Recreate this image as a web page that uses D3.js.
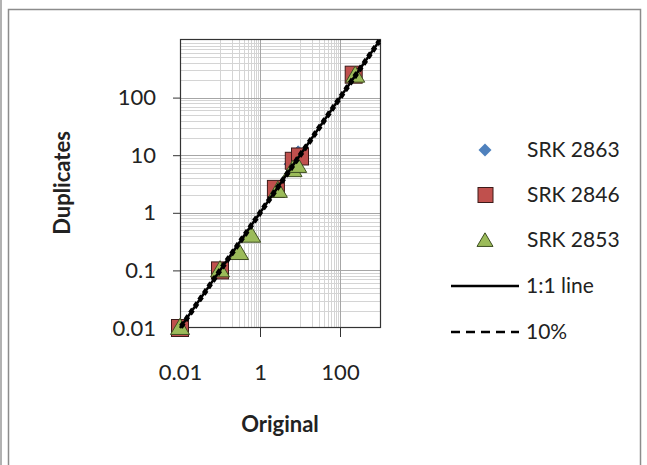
<!DOCTYPE html>
<html><head><meta charset="utf-8">
<script src="https://cdn.jsdelivr.net/npm/d3@7"></script>
<style>html,body{margin:0;padding:0;background:#fff;} svg{display:block;font-family:Lato,"Open Sans",sans-serif;}</style>
</head><body>
<svg id="c" width="647" height="465"></svg>
<script>
// ---- data ----
const seriesNames = ["SRK 2863", "SRK 2846", "SRK 2853"];
const srk2863X = [0.01, 0.1, 2.5, 6, 9];
const srk2863Y = [0.01, 0.1, 2.5, 7, 11];
const srk2846X = [0.01, 0.1, 2.5, 7, 10, 220];
const srk2846Y = [0.01, 0.1, 2.6, 8, 9.5, 250];
const srk2853X = [0.01, 0.1, 0.3, 0.6, 2.8, 6.5, 8.5, 240];
const srk2853Y = [0.01, 0.1, 0.2, 0.4, 2.4, 5.5, 6.5, 240];
const lineNames = ["1:1 line", "10%"];
const xTicks = [0.01, 1, 100];
const yTicks = [0.01, 0.1, 1, 10, 100];
const domain = [0.01, 1000];

const svg = d3.select("#c");
// outer frame
svg.append("line").attr("x1",1).attr("x2",1).attr("y1",0).attr("y2",465).attr("stroke","#999").attr("stroke-width",1.5);
svg.append("rect").attr("x",8.5).attr("y",9.5).attr("width",632).attr("height",470)
  .attr("fill","none").attr("stroke","#8c8c8c").attr("stroke-width",1.5);

const L=180, R=380, T=40, B=328;
const x = d3.scaleLog().domain(domain).range([L,R]);
const y = d3.scaleLog().domain(domain).range([B,T]);

const grid = svg.append("g");
// vertical minor gridlines (multiples of the 100-base unit)
const vMinor = [];
[0.01, 1, 100].forEach(b => { for (let k=10;k<100;k+=10) { const v=b*k; if (v<domain[1]) vMinor.push(v); } });
grid.selectAll(".vm").data(vMinor).join("line")
  .attr("x1",d=>Math.round(x(d))+0.5).attr("x2",d=>Math.round(x(d))+0.5).attr("y1",T).attr("y2",B)
  .attr("stroke","#d4d4d4").attr("stroke-width",1);
// horizontal minor gridlines
const hMinor = [];
[0.01,0.1,1,10,100].forEach(b => { for (let k=2;k<10;k++) hMinor.push(b*k); });
grid.selectAll(".hm").data(hMinor).join("line")
  .attr("y1",d=>Math.round(y(d))+0.5).attr("y2",d=>Math.round(y(d))+0.5).attr("x1",L).attr("x2",R)
  .attr("stroke","#d4d4d4").attr("stroke-width",1);
// major
grid.selectAll(".vM").data([1,100]).join("line")
  .attr("x1",d=>Math.round(x(d))+0.5).attr("x2",d=>Math.round(x(d))+0.5).attr("y1",T).attr("y2",B)
  .attr("stroke","#a6a6a6").attr("stroke-width",1);
grid.selectAll(".hM").data([0.1,1,10,100]).join("line")
  .attr("y1",d=>Math.round(y(d))+0.5).attr("y2",d=>Math.round(y(d))+0.5).attr("x1",L).attr("x2",R)
  .attr("stroke","#a6a6a6").attr("stroke-width",1);

// axes
const xAxis = d3.axisBottom(x).tickValues(xTicks).tickFormat(d3.format("~g")).tickSize(9).tickPadding(27);
const gx = svg.append("g").attr("transform",`translate(0,${B})`).call(xAxis);
const yAxis = d3.axisLeft(y).tickValues(yTicks).tickFormat(d3.format("~g")).tickSize(7).tickPadding(17);
const gy = svg.append("g").attr("transform",`translate(${L},0)`).call(yAxis);
[gx,gy].forEach(g=>{
  g.select(".domain").remove();
  g.selectAll(".tick line").attr("stroke","#333");
  g.selectAll("text").attr("font-size",22).attr("fill","#222").attr("font-family","Lato, sans-serif");
});
gx.selectAll(".tick line").filter(d=>d===0.01).remove();
gy.selectAll(".tick line").filter(d=>d===0.01).remove();

svg.append("rect").attr("x",L+0.5).attr("y",T-0.5).attr("width",R-L).attr("height",B-T)
  .attr("fill","none").attr("stroke","#333").attr("stroke-width",1.2);

// markers
const sq = 17, tri = 19;
function diamondPath(s){return `M0,${-s/2}L${s/2},0L0,${s/2}L${-s/2},0Z`;}
function triPath(s){const h=s*0.85;return `M0,${-h*0.6}L${s/2},${h*0.4}L${-s/2},${h*0.4}Z`;}
svg.append("g").selectAll("path").data(d3.zip(srk2863X,srk2863Y)).join("path")
  .attr("d",diamondPath(14)).attr("transform",d=>`translate(${x(d[0])},${y(d[1])})`)
  .attr("fill","#4f81bd").attr("stroke","#3a6599").attr("stroke-width",0.8);
svg.append("g").selectAll("rect").data(d3.zip(srk2846X,srk2846Y)).join("rect")
  .attr("x",d=>x(d[0])-sq/2).attr("y",d=>y(d[1])-sq/2).attr("width",sq).attr("height",sq)
  .attr("fill","#c0504d").attr("stroke","#3c1a19").attr("stroke-width",1);
svg.append("g").selectAll("path").data(d3.zip(srk2853X,srk2853Y)).join("path")
  .attr("d",triPath(tri)).attr("transform",d=>`translate(${x(d[0])},${y(d[1])})`)
  .attr("fill","#9bbb59").attr("stroke","#3e4e22").attr("stroke-width",1);

// lines
svg.append("line").attr("x1",x(domain[0])).attr("y1",y(domain[0])).attr("x2",x(domain[1])).attr("y2",y(domain[1]))
  .attr("stroke","#000").attr("stroke-width",2.5);
[1.1, 0.9].forEach(f=>{
  const x0 = f>1 ? domain[0] : domain[0]/f, x1 = f>1 ? domain[1]/f : domain[1];
  svg.append("line").attr("x1",x(x0)).attr("y1",y(x0*f)).attr("x2",x(x1)).attr("y2",y(x1*f))
    .attr("stroke","#000").attr("stroke-width",2.2).attr("stroke-dasharray","5,3");
});

// axis titles
svg.append("text").attr("x",280).attr("y",432).attr("text-anchor","middle").attr("font-size",22)
  .attr("font-weight","bold").attr("fill","#222").text("Original");
svg.append("text").attr("transform","translate(70,183) rotate(-90)").attr("text-anchor","middle")
  .attr("font-size",22).attr("font-weight","bold").attr("fill","#222").text("Duplicates");

// legend
const lg = svg.append("g");
const legY = [150, 195, 240, 286, 332];
const tx = 527;
lg.append("path").attr("d",diamondPath(13)).attr("transform",`translate(485,${legY[0]})`).attr("fill","#4f81bd");
lg.append("rect").attr("x",478).attr("y",legY[1]-7.5).attr("width",15).attr("height",15)
  .attr("fill","#c0504d").attr("stroke","#3c1a19").attr("stroke-width",1);
lg.append("path").attr("d",triPath(16)).attr("transform",`translate(485,${legY[2]+1})`)
  .attr("fill","#9bbb59").attr("stroke","#3e4e22").attr("stroke-width",1);
lg.append("line").attr("x1",451).attr("x2",519).attr("y1",legY[3]).attr("y2",legY[3]).attr("stroke","#000").attr("stroke-width",2.5);
lg.append("line").attr("x1",451).attr("x2",519).attr("y1",legY[4]).attr("y2",legY[4]).attr("stroke","#000").attr("stroke-width",2.5).attr("stroke-dasharray","9,6");
const legLabels = seriesNames.concat(lineNames);
lg.selectAll("text").data(legLabels).join("text")
  .attr("x",(d,i)=> i<3 ? tx : 526).attr("y",(d,i)=>legY[i]).attr("dy","0.35em")
  .attr("font-size",21).attr("fill","#222").text(d=>d);
</script>
</body></html>
